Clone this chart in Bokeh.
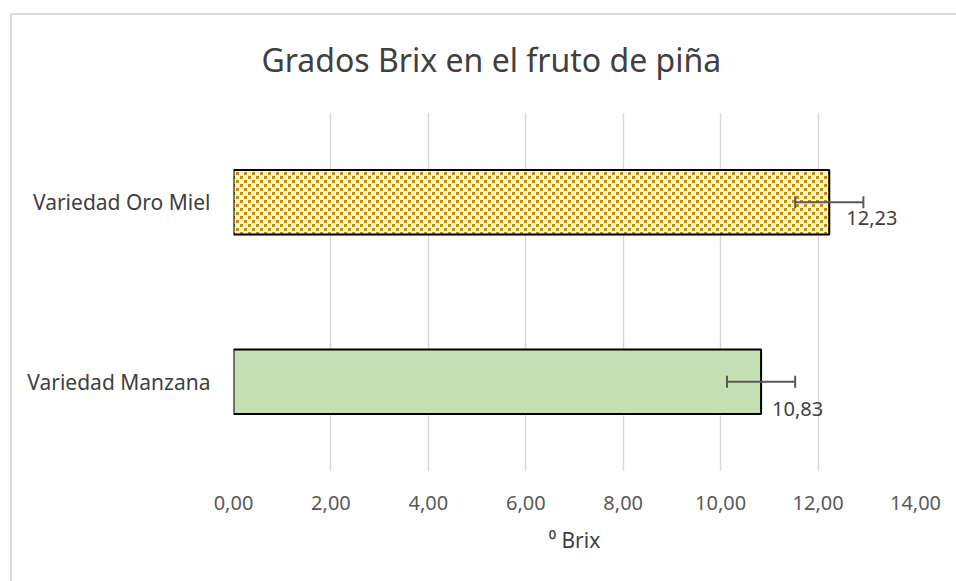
from bokeh.plotting import figure
from bokeh.models import (FactorRange, Range1d, FixedTicker, ColumnDataSource, Whisker,
                          TeeHead, Title, ImageURLTexture)
from bokeh.core.properties import value
from bokeh.embed import file_html
from bokeh.resources import INLINE

# ---- data ----
categories = ["Variedad Manzana", "Variedad Oro Miel"]
brix = [10.83, 12.23]
err = [0.70, 0.70]
value_labels = ["10,83", "12,23"]
x_ticks = [0, 2, 4, 6, 8, 10, 12, 14]
x_tick_labels = ["0,00", "2,00", "4,00", "6,00", "8,00", "10,00", "12,00", "14,00"]
title_text = "Grados Brix en el fruto de piña"
x_axis_title = "\u2070 Brix"

# ---- styles ----
fills = ["#C5E0B4", "#FFF2CC"]
hatches = [" ", "confetti"]
label_dx = [11, 17]
label_dy = [27, 16]
FONT = "Noto Sans"

confetti_svg = ('data:image/svg+xml;utf8,<svg xmlns="http://www.w3.org/2000/svg" width="8" height="8">'
                '<rect width="8" height="8" fill="%23FFF2CC"/>'
                '<rect x="0" y="0" width="3" height="3" fill="%23BF9000"/>'
                '<rect x="4" y="4" width="3" height="3" fill="%23BF9000"/></svg>')

src = ColumnDataSource(dict(
    cat=categories, val=brix,
    lo=[v - e for v, e in zip(brix, err)],
    hi=[v + e for v, e in zip(brix, err)],
    lab=value_labels, fill=fills, hatch=hatches, dx=label_dx, dy=label_dy,
))

p = figure(width=956, height=581, output_backend="svg", toolbar_location=None,
           y_range=FactorRange(factors=categories, range_padding=0),
           x_range=Range1d(0, 14),
           min_border_left=233, min_border_right=41,
           min_border_top=112, min_border_bottom=110)
p.outline_line_color = None
p.background_fill_color = "white"
p.border_fill_color = None
p.styles = {
    "background-color": "white",
    "background-image": "linear-gradient(#D9D9D9, #D9D9D9), linear-gradient(#D9D9D9, #D9D9D9)",
    "background-size": "2px 100%, 100% 2px",
    "background-position": "10px 13px, 10px 13px",
    "background-repeat": "no-repeat",
}

p.title = Title(text=title_text, align="left", offset=28, standoff=64,
                vertical_align="bottom", text_font=FONT, text_font_size="32px",
                text_font_style="normal", text_color="#404040")

p.hbar(y="cat", right="val", left=0, height=0.36, source=src,
       fill_color="fill", line_color="black", line_width=2,
       hatch_pattern="hatch", hatch_extra={"confetti": ImageURLTexture(url=confetti_svg)},
       hatch_alpha=1.0)

p.add_layout(Whisker(source=src, base="cat", lower="lo", upper="hi", dimension="width",
                     line_color="#595959", line_width=2, level="overlay",
                     lower_head=TeeHead(size=12, line_color="#595959", line_width=2),
                     upper_head=TeeHead(size=12, line_color="#595959", line_width=2)))

p.text(x="val", y="cat", text="lab", source=src, x_offset="dx", y_offset="dy",
       text_font=value(FONT), text_font_size="20px", text_color="#404040",
       text_baseline="middle", text_align="left")

# grid
p.xgrid.ticker = FixedTicker(ticks=x_ticks)
p.xgrid.grid_line_color = "#D9D9D9"
p.xgrid.grid_line_width = 1.5
p.ygrid.grid_line_color = None

# x axis
p.xaxis.ticker = FixedTicker(ticks=x_ticks)
p.xaxis.major_label_overrides = {t: l for t, l in zip(x_ticks, x_tick_labels)}
p.xaxis.axis_line_color = None
p.xaxis.major_tick_line_color = None
p.xaxis.minor_tick_line_color = None
p.xaxis.major_tick_out = 0
p.xaxis.major_label_standoff = 24
p.xaxis.major_label_text_font = FONT
p.xaxis.major_label_text_font_size = "20px"
p.xaxis.major_label_text_color = "#595959"
p.xaxis.axis_label = x_axis_title
p.xaxis.axis_label_text_font = FONT
p.xaxis.axis_label_text_font_size = "21px"
p.xaxis.axis_label_text_font_style = "normal"
p.xaxis.axis_label_text_color = "#404040"
p.xaxis.axis_label_standoff = 13

# y axis
p.yaxis.axis_line_color = None
p.yaxis.major_tick_line_color = None
p.yaxis.major_tick_out = 0
p.yaxis.major_label_standoff = 23
p.yaxis.major_label_text_font = FONT
p.yaxis.major_label_text_font_size = "21px"
p.yaxis.major_label_text_color = "#404040"

open("out.html", "w").write(file_html(p, INLINE))
